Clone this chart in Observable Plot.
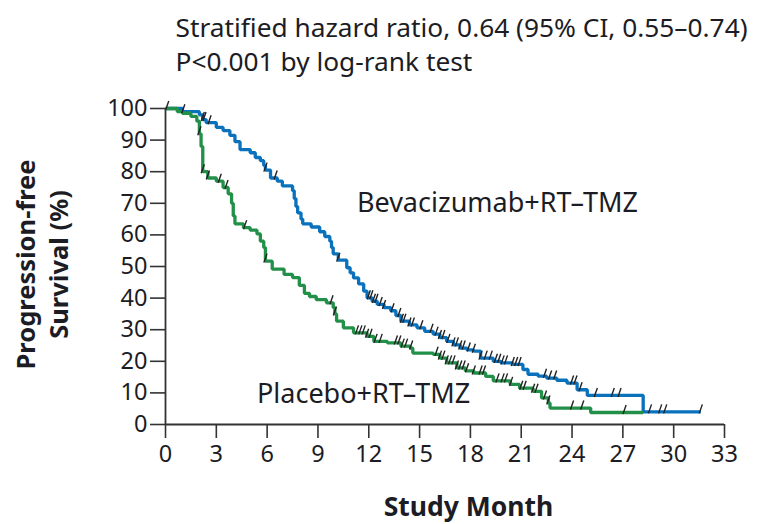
<!DOCTYPE html>
<html>
<head>
<meta charset="utf-8">
<script src="https://cdn.jsdelivr.net/npm/d3@7"></script>
<script src="https://cdn.jsdelivr.net/npm/@observablehq/plot@0.6"></script>
<style>
  html, body { margin: 0; padding: 0; background: #fff; }
  #chart { width: 760px; height: 524px; }
</style>
</head>
<body>
<div id="chart"></div>
<script>
const seriesNames = ["Bevacizumab+RT\u2013TMZ", "Placebo+RT\u2013TMZ"];
const titleLines = ["Stratified hazard ratio, 0.64 (95% CI, 0.55\u20130.74)", "P<0.001 by log-rank test"];
const xTicks = [0, 3, 6, 9, 12, 15, 18, 21, 24, 27, 30, 33];
const yTicks = [0, 10, 20, 30, 40, 50, 60, 70, 80, 90, 100];

// Bevacizumab + RT-TMZ step points
const bevMonths = [0, 1.0, 2.0, 2.2, 2.4, 3.0, 3.4, 3.8, 4.1, 4.4, 5.0, 5.3, 5.6, 5.8, 5.9, 6.2, 6.6, 6.9, 7.5, 7.6, 7.7, 7.8, 8.0, 8.1, 8.6, 9.1, 9.4, 9.7, 9.8, 9.9, 10.2, 10.7, 10.9, 11.1, 11.4, 11.7, 11.9, 12.2, 12.5, 12.9, 13.3, 13.6, 13.9, 14.4, 14.85, 15.3, 15.8, 16.2, 16.6, 17.0, 17.4, 17.8, 18.2, 18.6, 19.35, 19.8, 20.5, 21.1, 21.4, 22.0, 22.5, 23.1, 23.7, 24.3, 24.9, 28.2, 31.6];
const bevSurv   = [100, 99, 98, 96.5, 95.5, 94, 93, 91.5, 89.5, 87, 86, 84.5, 83.5, 82, 80.5, 78, 77, 75.5, 74, 71.5, 69, 67, 65, 63.5, 62.5, 61, 59.5, 58, 56, 54, 52, 49.6, 48, 46.4, 44.5, 42.2, 40.1, 39, 38, 37, 36, 34.5, 32.7, 31.5, 30.6, 29.5, 28.6, 27.5, 26.3, 25.2, 24.2, 23.6, 23.2, 21, 20, 19.5, 19, 17.4, 15.9, 15.3, 14.7, 14, 13.1, 11, 9.2, 4, 4];
const bevCensor = [0.1, 1.05, 2.2, 2.3, 2.6, 5.9, 6.5, 10.2, 12.0, 12.15, 12.3, 12.45, 12.7, 12.9, 13.4, 13.8, 13.95, 14.1, 14.4, 14.6, 15.1, 15.7, 16.0, 16.2, 16.4, 16.7, 17.0, 17.2, 17.4, 17.6, 17.9, 18.2, 18.6, 18.9, 19.2, 19.5, 19.7, 19.9, 20.1, 20.5, 20.7, 20.9, 22.4, 22.7, 23.0, 24.0, 24.2, 24.5, 25.4, 26.4, 26.8, 28.6, 29.2, 29.5, 31.6];

// Placebo + RT-TMZ step points
const plaMonths = [0, 0.7, 1.0, 1.5, 1.85, 2.0, 2.1, 2.2, 2.5, 3.0, 3.4, 3.7, 3.9, 4.0, 4.1, 4.6, 5.0, 5.4, 5.6, 5.8, 5.9, 6.3, 7.0, 7.5, 7.9, 8.2, 8.5, 8.9, 9.5, 9.9, 10.0, 10.1, 10.5, 11.1, 11.9, 12.3, 13.1, 13.9, 14.45, 14.6, 15.8, 16.2, 16.6, 17.2, 17.7, 18.2, 18.9, 19.35, 20.35, 20.9, 21.7, 22.2, 22.6, 22.7, 25.1, 28.2];
const plaSurv   = [100, 99, 98.5, 97.5, 96, 92, 88, 80, 78, 77, 75, 73, 70, 66, 63.5, 62.3, 61.5, 60.3, 58, 56, 51.7, 49.2, 47.5, 46.5, 44, 41.5, 40.5, 39.5, 38.5, 37, 35, 32.7, 30.6, 29, 27.9, 26.3, 25.8, 24.8, 24.2, 22.6, 22.2, 21, 19.5, 17.9, 17, 16.3, 15.2, 13.8, 12.7, 11.5, 10.5, 8.4, 6.8, 5.2, 3.8, 3.8];
const plaCensor = [2.0, 2.2, 2.5, 3.2, 3.6, 4.7, 5.9, 9.8, 10.0, 11.3, 11.5, 11.7, 11.9, 12.1, 12.4, 12.7, 13.6, 13.8, 14.0, 14.2, 14.5, 16.0, 16.2, 16.4, 16.6, 16.8, 17.0, 17.2, 17.4, 17.6, 17.8, 18.2, 18.6, 18.8, 19.6, 19.9, 20.1, 20.4, 21.0, 21.2, 21.7, 21.9, 22.4, 22.6, 24.0, 24.6, 27.1];

const colors = ["#0a72bd", "#23904a"];

function steps(months, surv, name) {
  return months.map((m, i) => ({month: m, surv: surv[i], series: name}));
}
function survAt(months, surv, t) {
  let v = surv[0];
  for (let i = 0; i < months.length; i++) if (months[i] <= t) v = surv[i];
  return v;
}
const curves = [...steps(bevMonths, bevSurv, seriesNames[0]), ...steps(plaMonths, plaSurv, seriesNames[1])];
const censors = [
  ...bevCensor.map(t => ({month: t, surv: survAt(bevMonths, bevSurv, t)})),
  ...plaCensor.map(t => ({month: t, surv: survAt(plaMonths, plaSurv, t)}))
];

const slash = {
  draw(context, size) {
    const r = Math.sqrt(size / Math.PI);
    context.moveTo(-r * 0.35, r);
    context.lineTo(r * 0.35, -r);
  }
};

const FONT = "Noto Sans";
const ink = "#1c1c24";

const chart = Plot.plot({
  width: 760,
  height: 524,
  marginLeft: 165,
  marginRight: 36,
  marginTop: 108,
  marginBottom: 100,
  style: {fontFamily: FONT, color: ink, background: "#fff", overflow: "visible"},
  x: {domain: [0, 33]},
  y: {domain: [0, 100]},
  color: {domain: seriesNames, range: colors},
  marks: [
    Plot.axisX({ticks: xTicks, tickSize: 14, tickPadding: 7, fontSize: 23.5, label: null, stroke: "#333", strokeWidth: 1.6}),
    Plot.axisY({ticks: yTicks, tickSize: 15, tickPadding: 3, fontSize: 23.5, label: null, stroke: "#333", strokeWidth: 1.6}),
    Plot.ruleY([0], {stroke: "#333", strokeWidth: 1.8}),
    Plot.ruleX([0], {stroke: "#333", strokeWidth: 1.8}),
    Plot.line(curves, {x: "month", y: "surv", z: "series", stroke: "series", curve: "step-after", strokeWidth: 3.3, strokeLinejoin: "miter", strokeLinecap: "butt"}),
    Plot.dot(censors, {x: "month", y: "surv", symbol: slash, r: 4.5, stroke: "#222", strokeWidth: 1.4, fill: "none", dy: -3}),
    Plot.text([seriesNames[0]], {x: 11.3, y: 70, text: d => d, textAnchor: "start", lineAnchor: "middle", fontSize: 27, fill: ink}),
    Plot.text([seriesNames[1]], {x: 5.4, y: 9.4, text: d => d, textAnchor: "start", lineAnchor: "middle", fontSize: 27, fill: ink}),
    Plot.text([titleLines[0]], {frameAnchor: "top-left", dx: 10, dy: -79.6, text: d => d, textAnchor: "start", lineAnchor: "middle", fontSize: 26.3, fill: ink}),
    Plot.text([titleLines[1]], {frameAnchor: "top-left", dx: 10, dy: -46.3, text: d => d, textAnchor: "start", lineAnchor: "middle", fontSize: 26.3, fill: ink}),
    Plot.text(["Progression-free"], {frameAnchor: "left", dx: -139, dy: -2, rotate: -90, text: d => d, textAnchor: "middle", lineAnchor: "middle", fontSize: 25.5, fontWeight: "bold", fill: ink}),
    Plot.text(["Survival (%)"], {frameAnchor: "left", dx: -106, dy: -2, rotate: -90, text: d => d, textAnchor: "middle", lineAnchor: "middle", fontSize: 25.5, fontWeight: "bold", fill: ink}),
    Plot.text(["Study Month"], {frameAnchor: "bottom", dx: 23.5, dy: 83.5, text: d => d, textAnchor: "middle", lineAnchor: "middle", fontSize: 26.5, fontWeight: "bold", fill: ink})
  ]
});
document.getElementById("chart").appendChild(chart);
</script>
</body>
</html>
